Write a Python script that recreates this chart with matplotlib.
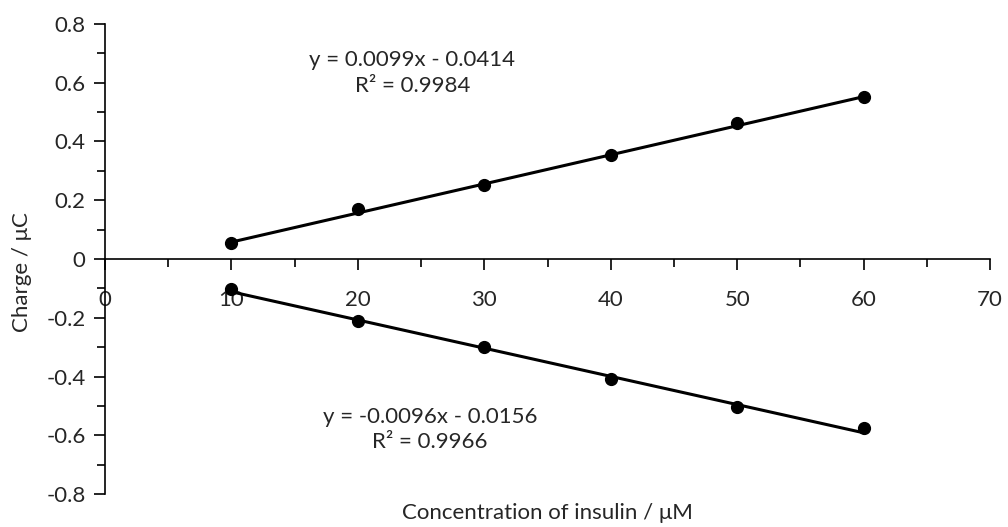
import numpy as np
import matplotlib.pyplot as plt
from matplotlib.ticker import MultipleLocator

# concentration of insulin (uM) and measured charge (uC)
conc = [10, 20, 30, 40, 50, 60]
charge_pos = [0.054, 0.170, 0.252, 0.354, 0.463, 0.551]
charge_neg = [-0.102, -0.211, -0.300, -0.408, -0.504, -0.575]

# trendline coefficients as printed on the chart
fit_pos = (0.0099, -0.0414, 0.9984)
fit_neg = (-0.0096, -0.0156, 0.9966)

plt.rcParams['font.family'] = ['Lato', 'DejaVu Sans']
txt = '#262626'
fs = 16

fig = plt.figure(figsize=(10.08, 5.27), dpi=100)
ax = fig.add_axes([0.1042, 0.0626, 0.878, 0.8919])

xx = np.array([conc[0], conc[-1]])
for yy, (m, b, r2) in [(charge_pos, fit_pos), (charge_neg, fit_neg)]:
    ax.plot(xx, m * xx + b, color='black', lw=2.2, zorder=2)
    ax.plot(conc, yy, 'o', color='black', ms=8.5, zorder=3)

ax.text(24.3, 0.677, 'y = %.4fx - %.4f' % (fit_pos[0], -fit_pos[1]),
        ha='center', va='center', fontsize=fs, color=txt)
ax.text(24.3, 0.590, 'R² = %.4f' % fit_pos[2],
        ha='center', va='center', fontsize=fs, color=txt)
ax.text(25.7, -0.538, 'y = %.4fx - %.4f' % (fit_neg[0], -fit_neg[1]),
        ha='center', va='center', fontsize=fs, color=txt)
ax.text(25.7, -0.622, 'R² = %.4f' % fit_neg[2],
        ha='center', va='center', fontsize=fs, color=txt)

ax.set_xlim(0, 70)
ax.set_ylim(-0.8, 0.8)
ax.spines['top'].set_visible(False)
ax.spines['right'].set_visible(False)
ax.spines['bottom'].set_position(('data', 0))
for s in ['left', 'bottom']:
    ax.spines[s].set_linewidth(1.2)
    ax.spines[s].set_color('black')

ax.xaxis.set_major_locator(MultipleLocator(10))
ax.xaxis.set_minor_locator(MultipleLocator(5))
ax.yaxis.set_major_locator(MultipleLocator(0.2))
ax.yaxis.set_minor_locator(MultipleLocator(0.1))
ax.tick_params(which='major', direction='out', length=8, width=1.2, labelsize=fs, labelcolor=txt)
ax.tick_params(which='minor', direction='out', length=6, width=1.2)
ax.tick_params(axis='x', which='major', pad=14)
ax.tick_params(axis='y', which='major', pad=6)
ax.set_yticks(np.arange(-0.8, 0.81, 0.2))
ax.set_yticklabels(['-0.8', '-0.6', '-0.4', '-0.2', '0', '0.2', '0.4', '0.6', '0.8'])
ax.set_xticks(np.arange(0, 71, 10))
ax.set_xticklabels([str(v) for v in range(0, 71, 10)])

fig.text(0.543, 0.027, 'Concentration of insulin / μM', ha='center', va='center',
         fontsize=fs, color=txt)
fig.text(0.022, 0.484, 'Charge / μC', ha='center', va='center', rotation=90,
         fontsize=fs, color=txt)

fig.savefig('out.png', dpi=100)
